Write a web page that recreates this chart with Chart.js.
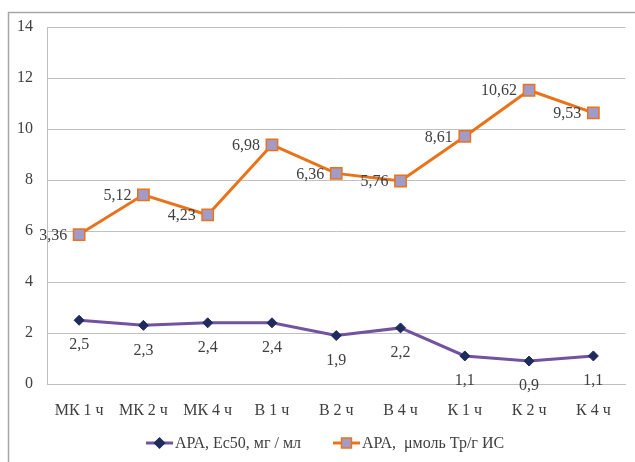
<!DOCTYPE html>
<html>
<head>
<meta charset="utf-8">
<script src="https://cdn.jsdelivr.net/npm/chart.js@4"></script>
<style>
  html, body { margin: 0; padding: 0; background: #fff; overflow: hidden; }
  #wrap { width: 635px; height: 462px; }
</style>
</head>
<body>
<div id="wrap"><canvas id="c" width="635" height="462"></canvas></div>
<script>
// Time points of sampling
const categories = ['МК 1 ч', 'МК 2 ч', 'МК 4 ч', 'В 1 ч', 'В 2 ч', 'В 4 ч', 'К 1 ч', 'К 2 ч', 'К 4 ч'];
// АРА, Ес50, мг / мл
const apaEc50 = [2.5, 2.3, 2.4, 2.4, 1.9, 2.2, 1.1, 0.9, 1.1];
// АРА, μмоль Тр/г ИС (stacked on top of the first series)
const apaTrolox = [3.36, 5.12, 4.23, 6.98, 6.36, 5.76, 8.61, 10.62, 9.53];
// Value axis ticks
const yTicks = [0, 2, 4, 6, 8, 10, 12, 14];
const seriesNames = ['АРА, Ес50, мг / мл', 'АРА,  μмоль Тр/г ИС'];

const FONT = "'Liberation Serif', 'Times New Roman', serif";
const TEXT = '#404040';
const PURPLE_LINE = '#7153a0';
const NAVY = '#1f2b5c';
const ORANGE = '#e8731a';
const LAVENDER = '#a29bc8';

Chart.defaults.font.family = FONT;
Chart.defaults.font.size = 16;
Chart.defaults.color = TEXT;

const fmt = v => String(v).replace('.', ',');

// Outer frame of the chart
const framePlugin = {
  id: 'frame',
  beforeDraw(chart) {
    const ctx = chart.ctx;
    ctx.save();
    ctx.fillStyle = '#fff';
    ctx.fillRect(0, 0, chart.width, chart.height);
    ctx.strokeStyle = '#a6a6a6';
    ctx.lineWidth = 1.5;
    ctx.strokeRect(8.5, 12.5, 700, 600);
    ctx.restore();
  }
};

// Value labels next to each point
const valueLabels = {
  id: 'valueLabels',
  afterDatasetsDraw(chart) {
    const ctx = chart.ctx;
    ctx.save();
    ctx.font = '16px ' + FONT;
    ctx.fillStyle = TEXT;
    chart.data.datasets.forEach((ds, di) => {
      const meta = chart.getDatasetMeta(di);
      meta.data.forEach((pt, i) => {
        const txt = fmt(ds.data[i]);
        if (di === 0) {
          ctx.textAlign = 'center';
          ctx.textBaseline = 'middle';
          ctx.fillText(txt, pt.x, pt.y + 25);
        } else {
          ctx.textAlign = 'right';
          ctx.textBaseline = 'middle';
          ctx.fillText(txt, pt.x - 12, pt.y + 1);
        }
      });
    });
    ctx.restore();
  }
};

// Legend row under the axis: line with marker, then the series name
const legendRow = {
  id: 'legendRow',
  afterDraw(chart) {
    const ctx = chart.ctx;
    const y = 443;
    const items = [
      { x: 146, color: PURPLE_LINE, style: 'rectRot', fill: NAVY, border: NAVY, r: 5, text: seriesNames[0] },
      { x: 333, color: ORANGE, style: 'rect', fill: LAVENDER, border: ORANGE, r: 7, text: seriesNames[1] }
    ];
    ctx.save();
    items.forEach(it => {
      ctx.strokeStyle = it.color;
      ctx.lineWidth = 3;
      ctx.beginPath();
      ctx.moveTo(it.x, y);
      ctx.lineTo(it.x + 27, y);
      ctx.stroke();
      ctx.fillStyle = it.fill;
      ctx.strokeStyle = it.border;
      ctx.lineWidth = 1.5;
      Chart.helpers.drawPoint(ctx, { pointStyle: it.style, radius: it.r, borderWidth: 1.5 }, it.x + 13.5, y);
      ctx.fillStyle = TEXT;
      ctx.font = '16px ' + FONT;
      ctx.textAlign = 'left';
      ctx.textBaseline = 'middle';
      ctx.fillText(it.text, it.x + 29, y + 1);
    });
    ctx.restore();
  }
};

new Chart(document.getElementById('c'), {
  type: 'line',
  data: {
    labels: categories,
    datasets: [
      {
        label: seriesNames[0],
        data: apaEc50,
        borderColor: PURPLE_LINE,
        borderWidth: 3,
        pointStyle: 'rectRot',
        pointRadius: 5,
        pointBackgroundColor: NAVY,
        pointBorderColor: NAVY,
        pointBorderWidth: 1,
        fill: false,
        tension: 0
      },
      {
        label: seriesNames[1],
        data: apaTrolox,
        borderColor: ORANGE,
        borderWidth: 3,
        pointStyle: 'rect',
        pointRadius: 8,
        pointBackgroundColor: LAVENDER,
        pointBorderColor: ORANGE,
        pointBorderWidth: 1.5,
        fill: false,
        tension: 0
      }
    ]
  },
  options: {
    responsive: false,
    animation: false,
    devicePixelRatio: 1,
    layout: { padding: { top: 27, right: 8, left: 0, bottom: 0 } },
    plugins: {
      legend: { display: false },
      tooltip: { enabled: false }
    },
    scales: {
      x: {
        offset: true,
        grid: { display: false, drawTicks: false },
        border: { display: true, color: '#bfbfbf', width: 1 },
        ticks: { padding: 17, color: TEXT, font: { size: 16 } },
        afterFit(scale) { scale.height = 78; }
      },
      y: {
        stacked: true,
        min: 0,
        max: 14,
        afterBuildTicks(scale) { scale.ticks = yTicks.map(v => ({ value: v })); },
        grid: { color: '#c0c0c0', lineWidth: 1, drawTicks: false },
        border: { display: true, color: '#bfbfbf', width: 1 },
        ticks: { padding: 14, color: TEXT, font: { size: 16 } },
        afterFit(scale) { scale.width = 47; }
      }
    }
  },
  plugins: [framePlugin, valueLabels, legendRow]
});
</script>
</body>
</html>
